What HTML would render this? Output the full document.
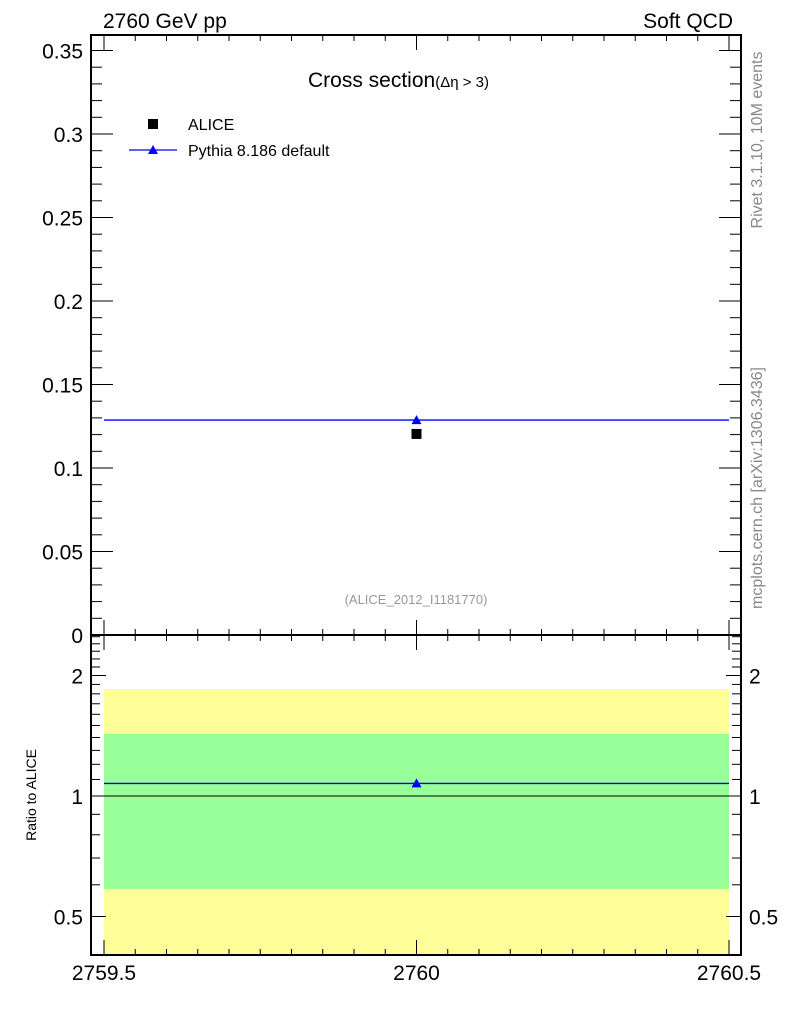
<!DOCTYPE html>
<html><head><meta charset="utf-8"><style>
body{margin:0;background:#fff}
svg{display:block;font-family:"Liberation Sans",sans-serif}
</style></head><body>
<svg id="c" width="786" height="1024" viewBox="0 0 786 1024"></svg>
<script>
const xTickLabels=["2759.5","2760","2760.5"];
const xTickValues=[2759.5,2760,2760.5];
const yTickValues=[0,0.05,0.1,0.15,0.2,0.25,0.3,0.35];
const yTickLabels=["0","0.05","0.1","0.15","0.2","0.25","0.3","0.35"];
const rTickValues=[0.5,1,2];
const rTickLabels=["0.5","1","2"];
const dataX=[2760];
const aliceY=[0.1204];
const pythiaY=[0.1287];
const binLo=[2759.5], binHi=[2760.5];
const ratioVals=[1.075];
const bandYellow=[0.2,1.85];
const bandGreen=[0.586,1.43];

const NS="http://www.w3.org/2000/svg";
const svg=document.getElementById('c');
const L=91,R=741,T=35,M=635,B=955;
const X=v=>104+(v-2759.5)*625;
const Y=v=>635-v*1670;
const RY=v=>796-Math.log2(v)*120.5;
function el(t,a,p){const e=document.createElementNS(NS,t);for(const k in a)e.setAttribute(k,a[k]);(p||svg).appendChild(e);return e;}
function line(x1,y1,x2,y2,w,c,name){const e=el('line',{x1,y1,x2,y2,stroke:c||'#000','stroke-width':w||1});

return e;}
function text(x,y,s,size,anchor,name,fill){const e=el('text',{x,y,'font-size':size,'text-anchor':anchor||'start',fill:fill||'#000'});e.textContent=s;

return e;}

const cl=el('clipPath',{id:'rc'});el('rect',{x:L,y:M,width:R-L,height:B-M},cl);
const g=el('g',{'clip-path':'url(#rc)'});
let r=el('rect',{x:X(binLo[0]),y:RY(bandYellow[1]),width:X(binHi[0])-X(binLo[0]),height:RY(bandYellow[0])-RY(bandYellow[1]),fill:'#ffff99'},g);


r=el('rect',{x:X(binLo[0]),y:RY(bandGreen[1]),width:X(binHi[0])-X(binLo[0]),height:RY(bandGreen[0])-RY(bandGreen[1]),fill:'#99ff99'},g);



for(let i=0;i<=35;i++){const v=i*0.01,y=Y(v);const maj=i%5==0;const l=maj?22:11;
line(L,y,L+l,y,1);line(R,y,R-l,y,1);}
const rMinor=[0.4,0.5,0.6,0.7,0.8,0.9,1,1.1,1.2,1.3,1.4,1.5,1.6,1.7,1.8,1.9,2,2.1,2.2,2.3,2.4,2.5];
rMinor.forEach(v=>{const y=RY(v);if(y<M||y>B)return;const maj=[0.5,1,2].some(m=>Math.abs(m-v)<1e-6);const l=maj?15:9;
line(L,y,L+l,y,1);line(R,y,R-l,y,1);});
for(let i=0;i<=20;i++){const v=2759.5+i*0.05,x=X(v);const maj=i%10==0;const l=maj?15:6;
[T,M].forEach(y0=>line(x,y0,x,y0+l,1));[M,B].forEach(y0=>line(x,y0,x,y0-l,1));}

let f=el('rect',{x:L,y:T,width:R-L,height:M-T,fill:'none',stroke:'#000','stroke-width':2});

f=el('rect',{x:L,y:M,width:R-L,height:B-M,fill:'none',stroke:'#000','stroke-width':2});


yTickValues.forEach((v,i)=>text(L-8,Y(v)+8,yTickLabels[i],21,'end','y-tick-label'));
rTickValues.forEach((v,i)=>{text(L-8,RY(v)+8,rTickLabels[i],21,'end','ratio-tick-label');text(R+8,RY(v)+8,rTickLabels[i],21,'start','ratio-tick-label-right');});
xTickValues.forEach((v,i)=>text(X(v),980,xTickLabels[i],21,'middle','x-tick-label'));

line(L,RY(1),R,RY(1),1,'#000','ratio-unity-line');

dataX.forEach((x,i)=>{
 line(X(binLo[i]),Y(pythiaY[i]),X(binHi[i]),Y(pythiaY[i]),1.3,'#0000ff','pythia-line');
 let t=el('polygon',{points:`${X(x)-5},${Y(pythiaY[i])+4} ${X(x)+5},${Y(pythiaY[i])+4} ${X(x)},${Y(pythiaY[i])-5}`,fill:'#0000ff'});
 
 let s=el('rect',{x:X(x)-5,y:Y(aliceY[i])-5,width:10,height:10,fill:'#000'});
 
 line(X(binLo[i]),RY(ratioVals[i]),X(binHi[i]),RY(ratioVals[i]),1.3,'#0000ff','ratio-pythia-line');
 t=el('polygon',{points:`${X(x)-5},${RY(ratioVals[i])+4} ${X(x)+5},${RY(ratioVals[i])+4} ${X(x)},${RY(ratioVals[i])-5}`,fill:'#0000ff'});
 
});

text(103,28,'2760 GeV pp',21,'start','collision-label');
text(733,28,'Soft QCD',21,'end','process-label');
let ti=text(308,87,'Cross section',21,'start','plot-title');
const ts=el('tspan',{'font-size':15});ts.textContent='(\u0394\u03b7 > 3)';ti.appendChild(ts);
let s=el('rect',{x:148,y:119,width:10,height:10,fill:'#000'});

text(188,130,'ALICE',16,'start','legend-alice-label');
line(129,150,177,150,1.3,'#0000ff','legend-pythia-line');
let t=el('polygon',{points:'148,154 158,154 153,145',fill:'#0000ff'});

text(188,156,'Pythia 8.186 default',16,'start','legend-pythia-label');
text(416,604,'(ALICE_2012_I1181770)',13,'middle','analysis-id','#999');
let rl=text(0,0,'Ratio to ALICE',14,'middle','ratio-y-title');rl.setAttribute('transform','translate(36,795) rotate(-90)');
let rv=text(0,0,'Rivet 3.1.10,  10M events',16,'middle','rivet-label','#888');rv.setAttribute('transform','translate(762,140) rotate(-90)');
let mc=text(0,0,'mcplots.cern.ch [arXiv:1306.3436]',16,'middle','mcplots-label','#888');mc.setAttribute('transform','translate(762,488) rotate(-90)');
</script>
</body></html>
